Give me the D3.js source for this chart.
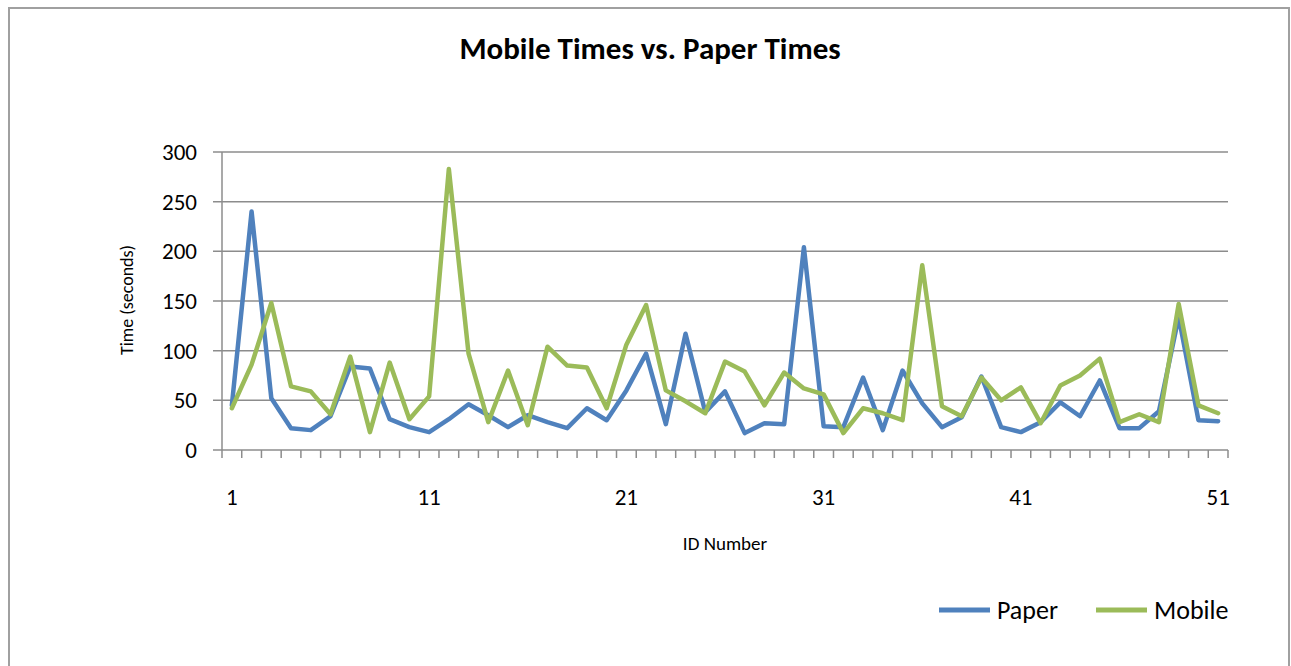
<!DOCTYPE html>
<html>
<head>
<meta charset="utf-8">
<script src="https://cdn.jsdelivr.net/npm/d3@7"></script>
<style>
  html, body { margin: 0; padding: 0; background: #fff; }
  svg { display: block; }
  text { font-family: Carlito, Calibri, Lato, "Open Sans", sans-serif; fill: #000; }
</style>
</head>
<body>
<svg id="chart" width="1291" height="666"></svg>
<script>
// ID numbers 1..51
const ids = d3.range(1, 52);

// Completion times in seconds
const paperTimes = [
  45, 240, 52, 22, 20, 34, 84, 82, 31, 23,
  18, 31, 46, 35, 23, 35, 28, 22, 42, 30,
  60, 97, 26, 117, 38, 59, 17, 27, 26, 204,
  24, 23, 73, 20, 80, 47, 23, 33, 74, 23,
  18, 28, 48, 34, 70, 22, 22, 39, 134, 30,
  29
];
const mobileTimes = [
  42, 86, 148, 64, 59, 36, 94, 18, 88, 31,
  54, 283, 97, 28, 80, 25, 104, 85, 83, 42,
  106, 146, 60, 49, 37, 89, 79, 45, 78, 62,
  56, 17, 42, 37, 30, 186, 44, 34, 73, 50,
  63, 27, 65, 75, 92, 28, 36, 28, 147, 45,
  37
];

const yTicks = [0, 50, 100, 150, 200, 250, 300];
const xLabels = [1, 11, 21, 31, 41, 51];

const seriesNames = ["Paper", "Mobile"];
const seriesColors = ["#4F81BD", "#9BBB59"];

const svg = d3.select("#chart");

// outer frame (left, top, right edges)
svg.append("path")
  .attr("d", "M9,666 V8 H1289 V666")
  .attr("fill", "none")
  .attr("stroke", "#a0a0a0")
  .attr("stroke-width", 2);

const plot = { left: 222, right: 1228, top: 152, bottom: 450 };

const x = d3.scaleBand().domain(ids).range([plot.left, plot.right]);
const y = d3.scaleLinear().domain([0, 300]).range([plot.bottom, plot.top]);
const cx = d => x(d) + x.bandwidth() / 2;

const gridColor = "#8c8c8c";

// horizontal gridlines, extended left to act as the y ticks
svg.append("g")
  .selectAll("line")
  .data(yTicks)
  .join("line")
  .attr("x1", plot.left - 9)
  .attr("x2", plot.right)
  .attr("y1", d => y(d))
  .attr("y2", d => y(d))
  .attr("stroke", gridColor)
  .attr("stroke-width", 1.5);

// y axis line
svg.append("line")
  .attr("x1", plot.left).attr("x2", plot.left)
  .attr("y1", plot.top).attr("y2", plot.bottom)
  .attr("stroke", gridColor).attr("stroke-width", 1.5);

// x axis ticks at category boundaries
const boundaries = ids.map(d => x(d)).concat([plot.right]);
svg.append("g")
  .selectAll("line")
  .data(boundaries)
  .join("line")
  .attr("x1", d => d).attr("x2", d => d)
  .attr("y1", plot.bottom).attr("y2", plot.bottom + 8)
  .attr("stroke", gridColor).attr("stroke-width", 1.5);

// y tick labels
svg.append("g")
  .selectAll("text")
  .data(yTicks)
  .join("text")
  .attr("x", 197)
  .attr("y", d => y(d) + 8)
  .attr("text-anchor", "end")
  .attr("font-size", 23)
  .text(d => d);

// x tick labels
svg.append("g")
  .selectAll("text")
  .data(xLabels)
  .join("text")
  .attr("x", d => cx(d))
  .attr("y", 505)
  .attr("text-anchor", "middle")
  .attr("font-size", 23)
  .text(d => d);

// series lines
const line = d3.line()
  .x((d, i) => cx(ids[i]))
  .y(d => y(d));

[paperTimes, mobileTimes].forEach((vals, k) => {
  svg.append("path")
    .datum(vals)
    .attr("d", line)
    .attr("fill", "none")
    .attr("stroke", seriesColors[k])
    .attr("stroke-width", 4.5)
    .attr("stroke-linejoin", "round")
    .attr("stroke-linecap", "round");
});

// title
svg.append("text")
  .attr("x", 650).attr("y", 59)
  .attr("text-anchor", "middle")
  .attr("font-size", 31)
  .attr("font-weight", "bold")
  .text("Mobile Times vs. Paper Times");

// axis titles
svg.append("text")
  .attr("transform", "translate(133,300) rotate(-90)")
  .attr("text-anchor", "middle")
  .attr("font-size", 18)
  .text("Time (seconds)");

svg.append("text")
  .attr("x", 725).attr("y", 550)
  .attr("text-anchor", "middle")
  .attr("font-size", 19)
  .text("ID Number");

// legend
const legendX = [939, 1096];
seriesNames.forEach((name, k) => {
  svg.append("line")
    .attr("x1", legendX[k]).attr("x2", legendX[k] + 51)
    .attr("y1", 610).attr("y2", 610)
    .attr("stroke", seriesColors[k])
    .attr("stroke-width", 5);
  svg.append("text")
    .attr("x", legendX[k] + 58).attr("y", 619)
    .attr("font-size", 26)
    .text(name);
});
</script>
</body>
</html>
